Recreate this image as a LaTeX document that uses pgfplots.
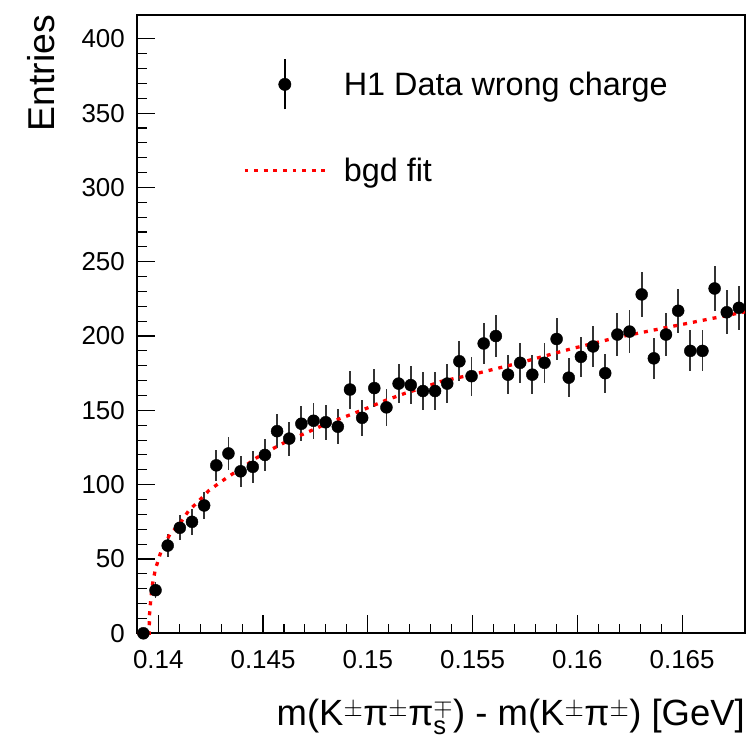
\documentclass[border=0pt]{standalone}
\usepackage{fontspec}
\setmainfont{Liberation Sans}
\usepackage{amsmath}
\usepackage{pgfplots}
\pgfplotsset{compat=1.18}
\usepackage{pgfplotstable}

\pgfplotstableread{
x y ey
0.13929 0 0
0.13987 29 5.39
0.14045 59 7.68
0.14103 71 8.43
0.14161 75 8.66
0.14219 86 9.27
0.14277 113 10.63
0.14335 121 11.00
0.14393 109 10.44
0.14451 112 10.58
0.14509 120 10.95
0.14567 136 11.66
0.14625 131 11.45
0.14683 141 11.87
0.14741 143 11.96
0.14799 142 11.92
0.14857 139 11.79
0.14915 164 12.81
0.14973 145 12.04
0.15031 165 12.85
0.15089 152 12.33
0.15147 168 12.96
0.15205 167 12.92
0.15263 163 12.77
0.15321 163 12.77
0.15379 168 12.96
0.15437 183 13.53
0.15495 173 13.15
0.15553 195 13.96
0.15611 200 14.14
0.15669 174 13.19
0.15727 182 13.49
0.15785 174 13.19
0.15843 182 13.49
0.15901 198 14.07
0.15959 172 13.11
0.16017 186 13.64
0.16075 193 13.89
0.16133 175 13.23
0.16191 201 14.18
0.16249 203 14.25
0.16307 228 15.10
0.16365 185 13.60
0.16423 201 14.18
0.16481 217 14.73
0.16539 190 13.78
0.16597 190 13.78
0.16655 232 15.23
0.16713 216 14.70
0.16771 219 14.80
}\datatable

\pgfplotstableread{
x y
0.13900 0
0.13957 0
0.13958 12
0.13962 19
0.13970 31
0.13986 43
0.14013 55
0.14057 67
0.14100 73
0.14145 82.5
0.14190 88.5
0.14241 96
0.14300 102
0.14357 107.5
0.14398 111
0.14466 117.8
0.14541 123.8
0.14625 130
0.14708 135
0.14796 140.6
0.14923 147.4
0.15007 152.1
0.15090 157
0.15178 161.5
0.15265 165.3
0.15345 169.3
0.15496 174
0.15726 182
0.15965 191.2
0.16188 199
0.16410 205.3
0.16649 212
0.16800 216.3
}\fittable

\begin{document}
\begin{tikzpicture}
\useasboundingbox (-137.3bp,-109.7bp) rectangle (611.7bp,633.3bp);
\begin{axis}[
  at={(0,0)}, anchor=south west,
  width=607.7bp, height=618.3bp, scale only axis,
  xmin=0.139, xmax=0.168, ymin=0, ymax=416,
  xtick={0.14,0.145,0.15,0.155,0.16,0.165},
  xticklabels={0.14,0.145,0.15,0.155,0.16,0.165},
  ytick={0,50,...,400},
  minor x tick num=4, minor y tick num=4,
  tick pos=left, tick align=inside,
  major tick length=18bp, minor tick length=9.5bp,
  tick style={black, line width=1.1bp},
  axis line style={line width=2bp},
  /pgf/number format/assume math mode=true,
  tick label style={font=\fontsize{26}{26}\selectfont},
  yticklabel style={inner sep=0pt, xshift=-12.3bp},
  xticklabel style={inner sep=0pt, yshift=-17.4bp},
  ylabel={Entries},
  ylabel style={at={(axis description cs:-0.1366,1)}, anchor=base east, inner sep=0pt, font=\fontsize{37.5}{37.5}\selectfont},
  xlabel={m(K$^{\pm}$π$^{\pm}$π$^{\mp}_{\textrm{s}}$) - m(K$^{\pm}$π$^{\pm}$) [GeV]},
  xlabel style={at={(axis description cs:1,0)}, anchor=base east, yshift=-91.7bp, inner sep=0pt, font=\fontsize{36.6}{36.6}\selectfont},
  legend cell align=left,
  legend style={draw=none, fill=none, at={(axis description cs:0.1734,0.930)}, anchor=north west, inner sep=0pt, row sep=48bp, font=\fontsize{32.5}{32.5}\selectfont, nodes={inner sep=0pt}, /tikz/every odd column/.append style={column sep=17bp}},
  clip=false,
]
\addplot[only marks, mark=*, mark size=6bp, black, forget plot,
  error bars/.cd, y dir=both, y explicit, error mark=none,
  error bar style={line width=1.8bp, black!80}]
  table[x=x, y=y, y error=ey]{\datatable};
\addplot[red, line width=3.3bp, dash pattern=on 4bp off 6bp, forget plot]
  table[x=x, y=y]{\fittable};
\addlegendimage{legend image code/.code={%
  \draw[black, line width=1.8bp] (40.3bp,-25bp) -- (40.3bp,25bp);
  \fill[black] (40.3bp,0bp) circle (6.2bp);
  \path[draw=none, fill=none] (0bp,0bp) rectangle (80.6bp,0bp);}}
\addlegendentry{H1 Data wrong charge}
\addlegendimage{legend image code/.code={\draw[red, line width=3.3bp, dash pattern=on 3.8bp off 5.8bp] (0bp,0bp) -- (80.6bp,0bp);}}
\addlegendentry{bgd fit}
\end{axis}
\end{tikzpicture}
\end{document}
